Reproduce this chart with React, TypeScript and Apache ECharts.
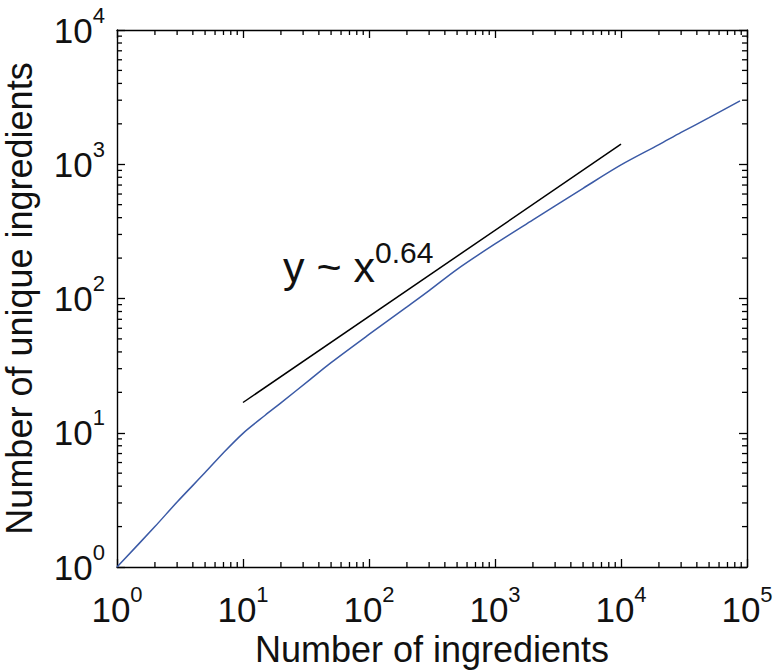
import React, { useEffect, useRef } from "react";
import * as echarts from "echarts";

// Blue curve: number of ingredients vs number of unique ingredients
const ingredientCounts = [1, 2, 3, 5, 7, 10, 15, 20, 34, 50, 100, 200, 300, 500, 1000, 2000, 3000, 5000, 10000, 20000, 30000, 50000, 88000];
const uniqueCounts = [1, 2, 3.05, 5.05, 7.1, 9.9, 13.5, 16.7, 24.9, 33.3, 54, 86.7, 114.6, 165, 255, 385, 489, 662, 988, 1400, 1727, 2222, 2966];

// Black reference power-law line y ~ x^0.64
const fitX = [10, 10000];
const fitY = [16.8, 1410];

const xMin = 1;
const xMax = 100000;
const yMin = 1;
const yMax = 10000;
const xDecades = [1, 10, 100, 1000, 10000];
const yDecades = [1, 10, 100, 1000];
const minorMultipliers = [2, 3, 4, 5, 6, 7, 8, 9];

const annotationMain = "y ~ x";
const annotationExp = "0.64";
const xTitle = "Number of ingredients";
const yTitle = "Number of unique ingredients";

const FONT = "'Liberation Sans', Arial, Helvetica, sans-serif";

export default function App() {
  const ref = useRef<HTMLDivElement>(null);

  useEffect(() => {
    if (!ref.current) return;
    const chart = echarts.init(ref.current, null, { renderer: "svg" });

    const xMinor: number[] = [];
    xDecades.forEach((d) => minorMultipliers.forEach((m) => xMinor.push(d * m)));
    const yMinor: number[] = [];
    yDecades.forEach((d) => minorMultipliers.forEach((m) => yMinor.push(d * m)));

    const labelFmt = (v: number) => {
      const e = Math.round(Math.log10(v));
      return `{b|10}{s|${e}}`;
    };
    const labelRich = {
      b: { fontSize: 35, lineHeight: 52, fontFamily: FONT, color: "#111" },
      s: { fontSize: 22, lineHeight: 22, verticalAlign: "top", fontFamily: FONT, color: "#111" },
    };
    const lineStyle = { color: "#000", width: 1.4 };
    const tickStyle = { color: "#000", width: 1.3 };
    const MINOR = 5;
    const minorStyle = { stroke: "#000", lineWidth: 1.3 };

    const annotation = {
      type: "text",
      left: 283,
      top: 237,
      z: 10,
      style: {
        text: `{m|${annotationMain}}{s|${annotationExp}}`,
        rich: {
          m: { fontSize: 43, lineHeight: 60, fontFamily: FONT, fill: "#111", color: "#111" },
          s: { fontSize: 30, lineHeight: 30, verticalAlign: "top", fontFamily: FONT, fill: "#111", color: "#111" },
        },
      },
    };

    const option: any = {
      animation: false,
      backgroundColor: "#fff",
      grid: { left: 117, top: 30, width: 630, height: 537, containLabel: false, outerBoundsMode: "none" },
      xAxis: [
        {
          type: "log",
          logBase: 10,
          min: xMin,
          max: xMax,
          splitNumber: 5,
          position: "bottom",
          name: xTitle,
          nameLocation: "middle",
          nameGap: 64,
          nameTextStyle: { fontSize: 36, fontFamily: FONT, color: "#111" },
          axisLine: { show: true, onZero: false, lineStyle },
          axisTick: { show: true, inside: true, length: 8, lineStyle: tickStyle },
          axisLabel: { show: true, margin: 16, formatter: labelFmt, rich: labelRich, showMinLabel: true, showMaxLabel: true },
          splitLine: { show: false },
          minorTick: { show: false },
        },
        {
          type: "log",
          logBase: 10,
          min: xMin,
          max: xMax,
          splitNumber: 5,
          position: "top",
          axisLine: { show: true, onZero: false, lineStyle },
          axisTick: { show: true, inside: true, length: 8, lineStyle: tickStyle },
          axisLabel: { show: false },
          splitLine: { show: false },
        },
      ],
      yAxis: [
        {
          type: "log",
          logBase: 10,
          min: yMin,
          max: yMax,
          splitNumber: 4,
          position: "left",
          name: yTitle,
          nameLocation: "middle",
          nameGap: 80,
          nameTextStyle: { fontSize: 36, fontFamily: FONT, color: "#111" },
          axisLine: { show: true, onZero: false, lineStyle },
          axisTick: { show: true, inside: true, length: 8, lineStyle: tickStyle },
          axisLabel: { show: true, margin: 12, formatter: labelFmt, rich: labelRich, showMinLabel: true, showMaxLabel: true },
          splitLine: { show: false },
        },
        {
          type: "log",
          logBase: 10,
          min: yMin,
          max: yMax,
          splitNumber: 4,
          position: "right",
          axisLine: { show: true, onZero: false, lineStyle },
          axisTick: { show: true, inside: true, length: 8, lineStyle: tickStyle },
          axisLabel: { show: false },
          splitLine: { show: false },
        },
      ],
      series: [
        {
          type: "line",
          name: "data",
          xAxisIndex: 0,
          yAxisIndex: 0,
          data: ingredientCounts.map((x, i) => [x, uniqueCounts[i]]),
          showSymbol: false,
          symbol: "none",
          smooth: 0.3,
          lineStyle: { color: "#3b5aa6", width: 1.5 },
          z: 3,
        },
        {
          type: "line",
          name: "fit",
          xAxisIndex: 0,
          yAxisIndex: 0,
          data: fitX.map((x, i) => [x, fitY[i]]),
          showSymbol: false,
          symbol: "none",
          lineStyle: { color: "#000", width: 1.5 },
          z: 3,
        },
        // minor log ticks along bottom/top (x minors)
        {
          type: "custom",
          silent: true,
          clip: false,
          xAxisIndex: 0,
          yAxisIndex: 0,
          data: xMinor.map((v) => [v, yMin, yMax]),
          encode: { x: 0, y: [1, 2] },
          renderItem: (_p: any, api: any) => {
            const b = api.coord([api.value(0), api.value(1)]);
            const t = api.coord([api.value(0), api.value(2)]);
            return {
              type: "group",
              children: [
                { type: "line", shape: { x1: b[0], y1: b[1], x2: b[0], y2: b[1] - MINOR }, style: minorStyle },
                { type: "line", shape: { x1: t[0], y1: t[1], x2: t[0], y2: t[1] + MINOR }, style: minorStyle },
              ],
            };
          },
          z: 20,
        },
        // minor log ticks along left/right (y minors)
        {
          type: "custom",
          silent: true,
          clip: false,
          xAxisIndex: 0,
          yAxisIndex: 0,
          data: yMinor.map((v) => [xMin, xMax, v]),
          encode: { x: [0, 1], y: 2 },
          renderItem: (_p: any, api: any) => {
            const l = api.coord([api.value(0), api.value(2)]);
            const r = api.coord([api.value(1), api.value(2)]);
            return {
              type: "group",
              children: [
                { type: "line", shape: { x1: l[0], y1: l[1], x2: l[0] + MINOR, y2: l[1] }, style: minorStyle },
                { type: "line", shape: { x1: r[0], y1: r[1], x2: r[0] - MINOR, y2: r[1] }, style: minorStyle },
              ],
            };
          },
          z: 20,
        },
      ],
      graphic: [annotation],
    };

    chart.setOption(option);
    return () => chart.dispose();
  }, []);

  return (
    <div
      ref={ref}
      style={{ position: "fixed", left: 0, top: 0, width: 775, height: 670, background: "#fff" }}
    />
  );
}
